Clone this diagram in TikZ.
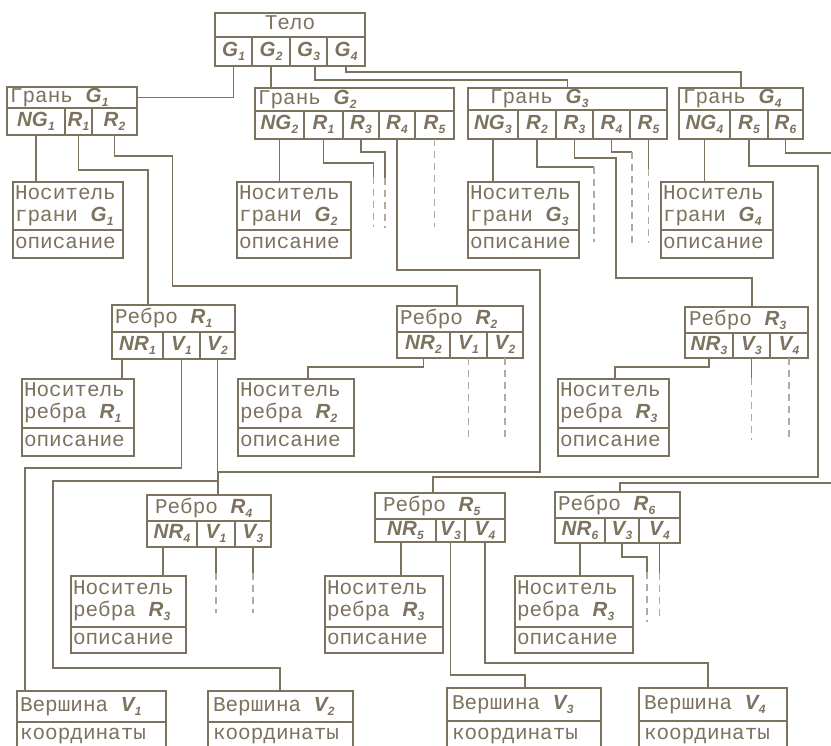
\documentclass[tikz,border=0pt]{standalone}
\usepackage{fontspec}
\setmainfont{Liberation Mono}
\newfontfamily\labfont{Liberation Sans}
\definecolor{ink}{RGB}{124,115,95}
\newcommand\Lb[2]{{\labfont\bfseries\itshape\fontsize{20.5}{20.5}\selectfont #1\kern0.3pt\raisebox{-4pt}{\fontsize{12}{12}\selectfont #2}}}
\newcommand\sct{\vrule height 14pt depth 5pt width 0pt}
\newcommand\twoline[2]{\begin{tabular}{@{}l@{}}#1\\#2\end{tabular}}
\newcommand\mkcell[6]{%
  \pgfmathsetmacro\cw{#4-#2}\pgfmathsetmacro\ch{#5-#3}%
  \node[cellbox, minimum width=\cw pt, minimum height=\ch pt, anchor=north west] (#1) at (#2,#3) {\hbox to \cw pt{#6}};%
}
\tikzset{
  cellbox/.style={draw=ink, line width=1.5pt, inner sep=0pt, outer sep=0pt, text=ink, font=\fontsize{21}{22}\selectfont},
  link/.style={draw=ink, line width=1.5pt},
  dashline/.style={draw=ink!60, line width=1.5pt, dash pattern=on 7pt off 5pt}
}
\begin{document}
\begin{tikzpicture}[x=1pt,y=-1pt]
\useasboundingbox (0,0) rectangle (831,746);
\fill[white] (0,0) rectangle (831,746);
\clip (0,0) rectangle (831,746);

% Тело
\mkcell{tH}{215}{13}{365}{37}{\hfil\sct Тело\hfil}
\mkcell{tG1}{215}{37}{252}{66}{\hfil\sct\Lb{G}{1}\hfil}
\mkcell{tG2}{252}{37}{290}{66}{\hfil\sct\Lb{G}{2}\hfil}
\mkcell{tG3}{290}{37}{327}{66}{\hfil\sct\Lb{G}{3}\hfil}
\mkcell{tG4}{327}{37}{365}{66}{\hfil\sct\Lb{G}{4}\hfil}

% Грань G1
\mkcell{aH}{7}{87}{137}{108}{\hspace*{3pt}\sct Грань \Lb{G}{1}\hfil}
\mkcell{aN}{7}{108}{65}{135}{\hfil\sct\Lb{NG}{1}\hfil}
\mkcell{aR1}{65}{108}{92}{135}{\hfil\sct\Lb{R}{1}\hfil}
\mkcell{aR2}{92}{108}{137}{135}{\hfil\sct\Lb{R}{2}\hfil}

% Грань G2
\mkcell{bH}{255}{88}{454}{111}{\hspace*{3pt}\sct Грань \Lb{G}{2}\hfil}
\mkcell{bN}{255}{111}{304}{139}{\hfil\sct\Lb{NG}{2}\hfil}
\mkcell{bR1}{304}{111}{343}{139}{\hfil\sct\Lb{R}{1}\hfil}
\mkcell{bR3}{343}{111}{379}{139}{\hfil\sct\Lb{R}{3}\hfil}
\mkcell{bR4}{379}{111}{415}{139}{\hfil\sct\Lb{R}{4}\hfil}
\mkcell{bR5}{415}{111}{454}{139}{\hfil\sct\Lb{R}{5}\hfil}

% Грань G3
\mkcell{cH}{468}{88}{667}{110}{\hspace*{22pt}\sct Грань \Lb{G}{3}\hfil}
\mkcell{cN}{468}{110}{518}{139}{\hfil\sct\Lb{NG}{3}\hfil}
\mkcell{cR2}{518}{110}{556}{139}{\hfil\sct\Lb{R}{2}\hfil}
\mkcell{cR3}{556}{110}{593}{139}{\hfil\sct\Lb{R}{3}\hfil}
\mkcell{cR4}{593}{110}{630}{139}{\hfil\sct\Lb{R}{4}\hfil}
\mkcell{cR5}{630}{110}{667}{139}{\hfil\sct\Lb{R}{5}\hfil}

% Грань G4
\mkcell{dH}{679}{88}{803}{110}{\hspace*{4pt}\sct Грань \Lb{G}{4}\hfil}
\mkcell{dN}{679}{110}{730}{139}{\hfil\sct\Lb{NG}{4}\hfil}
\mkcell{dR5}{730}{110}{768}{139}{\hfil\sct\Lb{R}{5}\hfil}
\mkcell{dR6}{768}{110}{803}{139}{\hfil\sct\Lb{R}{6}\hfil}

% Носитель грани
\mkcell{nA1}{13}{182}{123}{230}{\hspace*{2pt}\twoline{Носитель}{грани \Lb{G}{1}}\hfil}
\mkcell{nA2}{13}{230}{123}{258}{\hspace*{2pt}\sct описание\hfil}
\mkcell{nB1}{237}{182}{351}{230}{\hspace*{2pt}\twoline{Носитель}{грани \Lb{G}{2}}\hfil}
\mkcell{nB2}{237}{230}{351}{258}{\hspace*{2pt}\sct описание\hfil}
\mkcell{nC1}{468}{182}{579}{230}{\hspace*{2pt}\twoline{Носитель}{грани \Lb{G}{3}}\hfil}
\mkcell{nC2}{468}{230}{579}{258}{\hspace*{2pt}\sct описание\hfil}
\mkcell{nD1}{661}{182}{773}{230}{\hspace*{2pt}\twoline{Носитель}{грани \Lb{G}{4}}\hfil}
\mkcell{nD2}{661}{230}{773}{258}{\hspace*{2pt}\sct описание\hfil}

% Ребро R1, R2, R3
\mkcell{eAH}{112}{305}{235}{332}{\hspace*{3pt}\sct Ребро \Lb{R}{1}\hfil}
\mkcell{eAN}{112}{332}{163}{359}{\hfil\sct\Lb{NR}{1}\hfil}
\mkcell{eAV1}{163}{332}{200}{359}{\hfil\sct\Lb{V}{1}\hfil}
\mkcell{eAV2}{200}{332}{235}{359}{\hfil\sct\Lb{V}{2}\hfil}

\mkcell{eBH}{397}{306}{523}{332}{\hspace*{3pt}\sct Ребро \Lb{R}{2}\hfil}
\mkcell{eBN}{397}{332}{450}{358}{\hfil\sct\Lb{NR}{2}\hfil}
\mkcell{eBV1}{450}{332}{487}{358}{\hfil\sct\Lb{V}{1}\hfil}
\mkcell{eBV2}{487}{332}{523}{358}{\hfil\sct\Lb{V}{2}\hfil}

\mkcell{eCH}{685}{307}{808}{333}{\hspace*{4pt}\sct Ребро \Lb{R}{3}\hfil}
\mkcell{eCN}{685}{333}{733}{358}{\hfil\sct\Lb{NR}{3}\hfil}
\mkcell{eCV3}{733}{333}{770}{358}{\hfil\sct\Lb{V}{3}\hfil}
\mkcell{eCV4}{770}{333}{808}{358}{\hfil\sct\Lb{V}{4}\hfil}

% Носитель ребра (row 1)
\mkcell{mA1}{22}{379}{134}{428}{\hspace*{2pt}\twoline{Носитель}{ребра \Lb{R}{1}}\hfil}
\mkcell{mA2}{22}{428}{134}{456}{\hspace*{2pt}\sct описание\hfil}
\mkcell{mB1}{238}{379}{354}{428}{\hspace*{2pt}\twoline{Носитель}{ребра \Lb{R}{2}}\hfil}
\mkcell{mB2}{238}{428}{354}{456}{\hspace*{2pt}\sct описание\hfil}
\mkcell{mC1}{558}{379}{669}{428}{\hspace*{2pt}\twoline{Носитель}{ребра \Lb{R}{3}}\hfil}
\mkcell{mC2}{558}{428}{669}{456}{\hspace*{2pt}\sct описание\hfil}

% Ребро R4, R5, R6
\mkcell{eDH}{147}{495}{271}{521}{\hspace*{8pt}\sct Ребро \Lb{R}{4}\hfil}
\mkcell{eDN}{147}{521}{197}{547}{\hfil\sct\Lb{NR}{4}\hfil}
\mkcell{eDV1}{197}{521}{235}{547}{\hfil\sct\Lb{V}{1}\hfil}
\mkcell{eDV3}{235}{521}{271}{547}{\hfil\sct\Lb{V}{3}\hfil}

\mkcell{eEH}{375}{493}{505}{519}{\hspace*{8pt}\sct Ребро \Lb{R}{5}\hfil}
\mkcell{eEN}{375}{519}{436}{542}{\hfil\sct\Lb{NR}{5}\hfil}
\mkcell{eEV3}{436}{519}{465}{542}{\hfil\sct\Lb{V}{3}\hfil}
\mkcell{eEV4}{465}{519}{505}{542}{\hfil\sct\Lb{V}{4}\hfil}

\mkcell{eFH}{555}{492}{680}{518}{\hspace*{3pt}\sct Ребро \Lb{R}{6}\hfil}
\mkcell{eFN}{555}{518}{605}{543}{\hfil\sct\Lb{NR}{6}\hfil}
\mkcell{eFV3}{605}{518}{639}{543}{\hfil\sct\Lb{V}{3}\hfil}
\mkcell{eFV4}{639}{518}{680}{543}{\hfil\sct\Lb{V}{4}\hfil}

% Носитель ребра (row 2)
\mkcell{mD1}{71}{576}{186}{627}{\hspace*{2pt}\twoline{Носитель}{ребра \Lb{R}{3}}\hfil}
\mkcell{mD2}{71}{627}{186}{653}{\hspace*{2pt}\sct описание\hfil}
\mkcell{mE1}{325}{576}{443}{627}{\hspace*{2pt}\twoline{Носитель}{ребра \Lb{R}{3}}\hfil}
\mkcell{mE2}{325}{627}{443}{653}{\hspace*{2pt}\sct описание\hfil}
\mkcell{mF1}{515}{576}{633}{627}{\hspace*{2pt}\twoline{Носитель}{ребра \Lb{R}{3}}\hfil}
\mkcell{mF2}{515}{627}{633}{653}{\hspace*{2pt}\sct описание\hfil}

% Вершины
\mkcell{vAH}{17}{691}{166}{722}{\hspace*{3pt}\sct Вершина \Lb{V}{1}\hfil}
\mkcell{vA2}{17}{722}{166}{748}{\hspace*{3pt}\sct координаты\hfil}
\mkcell{vBH}{208}{691}{353}{722}{\hspace*{5pt}\sct Вершина \Lb{V}{2}\hfil}
\mkcell{vB2}{208}{722}{353}{748}{\hspace*{5pt}\sct координаты\hfil}
\mkcell{vCH}{447}{688}{601}{721}{\hspace*{5pt}\sct Вершина \Lb{V}{3}\hfil}
\mkcell{vC2}{447}{721}{601}{748}{\hspace*{5pt}\sct координаты\hfil}
\mkcell{vDH}{639}{688}{787}{721}{\hspace*{5pt}\sct Вершина \Lb{V}{4}\hfil}
\mkcell{vD2}{639}{721}{787}{748}{\hspace*{5pt}\sct координаты\hfil}

% ---- connectors ----
\draw[link] (tG1.south) |- (aH.east);
\draw[link] (tG2.south) -- (tG2.south |- bH.north);
\draw[link] ([xshift=25pt]tG3.south west) -- ++(0,14) -| (cH.north);
\draw[link] (tG4.south) -- ++(0,6) -| (dH.north);

\draw[link] (aN.south) -- (aN.south |- nA1.north);
\draw[link] (aR1.south) -- ++(0,35) -| ([xshift=36pt]eAH.north west);
\draw[link] (aR2.south) -- ++(0,21) -- ++(58,0) -- ++(0,130) -| ([xshift=60pt]eBH.north west);

\draw[link] (bN.south) -- (bN.south |- nB1.north);
\draw[link] (bR1.south) -- ++(0,24) -- ++(50,0) -- ++(0,14) coordinate (b1end);
\draw[dashline] (b1end) -- ++(0,50);
\draw[link] (bR3.south) -- ++(0,13) -- ++(24,0) -- ++(0,26) coordinate (b3end);
\draw[dashline] (b3end) -- ++(0,50);
\draw[link] (bR4.south) -- ++(0,131) -- ++(143,0) -- ++(0,202) -| ([xshift=71pt]eDH.north west);
\draw[dashline] (bR5.south) -- ++(0,88);

\draw[link] (cN.south) -- (cN.south |- nC1.north);
\draw[link] (cR2.south) -- ++(0,28) -- ++(57,0) coordinate (c2end);
\draw[dashline] (c2end) -- ++(0,75);
\draw[link] (cR3.south) -- ++(0,19) -- ++(41.5,0) -- ++(0,120) -| ([xshift=67pt]eCH.north west);
\draw[link] (cR4.south) -- ++(0,13) -- ++(20.5,0) coordinate (c4end);
\draw[dashline] (c4end) -- ++(0,91);
\draw[link] (cR5.south) -- ++(0,30) coordinate (c5end);
\draw[dashline] (c5end) -- ++(0,74);

\draw[link] (dN.south) -- (dN.south |- nD1.north);
\draw[link] (dR5.south) -- ++(0,27) -- ++(69,0) -- ++(0,311) -| ([xshift=58pt]eEH.north west);
\draw[link] (dR6.south) -- ++(0,14) -- ++(60,0) -- ++(0,330) -| ([xshift=65pt]eFH.north west);

\draw[link] ([xshift=10pt]eAN.south west) -- ([xshift=10pt]eAN.south west |- mA1.north);
\draw[link] (eAV1.south) -- ++(0,109) -| ([xshift=8pt]vAH.north west);
\draw[link] (eAV2.south) -- ++(0,122) -- ++(-164.5,0) -- ++(0,187) -| ([xshift=72pt]vBH.north west);

\draw[link] (eBN.south) -- ++(0,9) -| ([xshift=70pt]mB1.north west);
\draw[dashline] (eBV1.south) -- ++(0,80);
\draw[dashline] (eBV2.south) -- ++(0,80);
\draw[link] (eCN.south) -- ++(0,9) -| ([xshift=57pt]mC1.north west);
\draw[link] (eCV3.south) -- ++(0,20) coordinate (e3end);
\draw[dashline] (e3end) -- ++(0,62);
\draw[dashline] (eCV4.south) -- ++(0,82);

\draw[link] ([xshift=16pt]eDN.south west) -- ([xshift=16pt]eDN.south west |- mD1.north);
\draw[link] (eDV1.south) -- ++(0,26) coordinate (d1end);
\draw[dashline] (d1end) -- ++(0,40);
\draw[link] (eDV3.south) -- ++(0,26) coordinate (d3end);
\draw[dashline] (d3end) -- ++(0,40);

\draw[link] ([xshift=26pt]eEN.south west) -- ([xshift=26pt]eEN.south west |- mE1.north);
\draw[link] (eEV3.south) -- ++(0,133) -| ([xshift=78pt]vCH.north west);
\draw[link] (eEV4.south) -- ++(0,121) -| ([xshift=69pt]vDH.north west);

\draw[link] (eFN.south) -- (eFN.south |- mF1.north);
\draw[link] (eFV3.south) -- ++(0,14) -- ++(25,0) -- ++(0,15) coordinate (f3end);
\draw[dashline] (f3end) -- ++(0,50);
\draw[link] (eFV4.south) -- ++(0,30) coordinate (f4end);
\draw[dashline] (f4end) -- ++(0,48);
\end{tikzpicture}
\end{document}
